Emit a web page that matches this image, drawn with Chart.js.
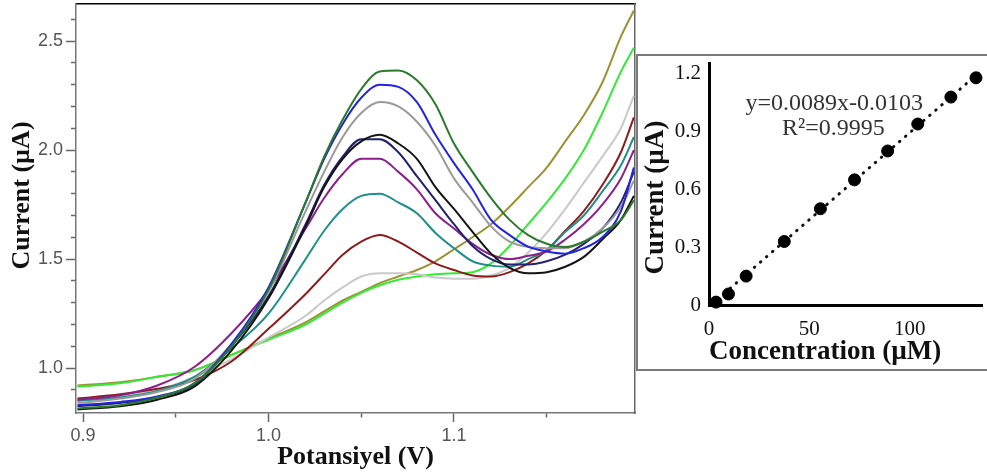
<!DOCTYPE html>
<html>
<head>
<meta charset="utf-8">
<script src="https://cdn.jsdelivr.net/npm/chart.js@4.4.1/dist/chart.umd.min.js"></script>
<style>
  html, body { margin: 0; padding: 0; background: #fff; }
  #wrap { position: relative; width: 987px; height: 476px; overflow: hidden; }
  #main { position: absolute; left: 0; top: 0; }
  #insetBox { position: absolute; left: 636px; top: 54px; width: 360px; height: 313px;
              border: 2px solid #7a7a7a; background: #fff; }
  #inset { position: absolute; left: 0; top: 0; }
</style>
</head>
<body>
<div id="wrap">
  <canvas id="main" width="987" height="476"></canvas>
  <div id="insetBox"><canvas id="inset" width="351" height="313"></canvas></div>
</div>
<script>
const potential = [0.897, 0.92, 0.94, 0.96, 0.98, 1.00, 1.02, 1.03, 1.04, 1.05, 1.06, 1.07, 1.08,
  1.09, 1.10, 1.11, 1.12, 1.13, 1.14, 1.15, 1.16, 1.17, 1.18, 1.19, 1.197];

// currents (uA), one array per voltammogram
const darkGreen = [0.815, 0.83, 0.865, 0.93, 1.10, 1.36, 1.76, 1.97, 2.14, 2.28, 2.36, 2.365, 2.32,
  2.21, 2.03, 1.90, 1.78, 1.68, 1.61, 1.57, 1.555, 1.58, 1.625, 1.68, 1.77];
const blue = [0.83, 0.845, 0.87, 0.93, 1.11, 1.37, 1.76, 1.96, 2.12, 2.24, 2.30, 2.29, 2.22,
  2.07, 1.94, 1.82, 1.68, 1.61, 1.557, 1.535, 1.525, 1.55, 1.60, 1.72, 1.92];
const gray = [0.84, 0.86, 0.89, 0.95, 1.11, 1.35, 1.72, 1.90, 2.06, 2.17, 2.22, 2.20, 2.13,
  2.02, 1.87, 1.76, 1.65, 1.58, 1.555, 1.55, 1.55, 1.58, 1.64, 1.74, 1.86];
const black = [0.81, 0.825, 0.855, 0.915, 1.08, 1.32, 1.65, 1.83, 1.96, 2.04, 2.07, 2.03, 1.96,
  1.83, 1.73, 1.625, 1.525, 1.46, 1.435, 1.44, 1.465, 1.51, 1.59, 1.68, 1.79];
const navy = [0.825, 0.84, 0.865, 0.925, 1.10, 1.33, 1.66, 1.84, 1.97, 2.05, 2.05, 1.99, 1.88,
  1.77, 1.66, 1.56, 1.50, 1.475, 1.475, 1.49, 1.52, 1.57, 1.64, 1.76, 1.90];
const purple = [0.855, 0.875, 0.92, 1.005, 1.16, 1.36, 1.64, 1.78, 1.89, 1.96, 1.96, 1.90, 1.82,
  1.71, 1.64, 1.57, 1.52, 1.50, 1.515, 1.535, 1.59, 1.66, 1.75, 1.87, 2.00];
const teal = [0.85, 0.865, 0.895, 0.96, 1.09, 1.25, 1.50, 1.63, 1.73, 1.79, 1.80, 1.76, 1.71,
  1.62, 1.55, 1.49, 1.47, 1.465, 1.50, 1.54, 1.625, 1.70, 1.81, 1.93, 2.06];
const darkRed = [0.86, 0.88, 0.905, 0.945, 1.03, 1.18, 1.34, 1.43, 1.52, 1.58, 1.61, 1.58, 1.53,
  1.48, 1.45, 1.425, 1.42, 1.44, 1.48, 1.54, 1.63, 1.72, 1.84, 1.99, 2.15];
const lightGray = [0.85, 0.87, 0.90, 0.96, 1.04, 1.14, 1.24, 1.31, 1.37, 1.42, 1.435, 1.435, 1.43,
  1.415, 1.41, 1.41, 1.425, 1.46, 1.53, 1.62, 1.73, 1.85, 1.97, 2.10, 2.25];
const brightGreen = [0.915, 0.93, 0.96, 0.99, 1.06, 1.13, 1.20, 1.25, 1.30, 1.345, 1.38, 1.405, 1.42,
  1.43, 1.435, 1.44, 1.48, 1.56, 1.66, 1.76, 1.87, 2.00, 2.17, 2.36, 2.47];
const olive = [0.92, 0.935, 0.96, 0.99, 1.06, 1.135, 1.21, 1.26, 1.31, 1.35, 1.39, 1.42, 1.45,
  1.49, 1.545, 1.60, 1.66, 1.74, 1.83, 1.92, 2.04, 2.16, 2.31, 2.52, 2.64];

const xTicks = [0.9, 0.95, 1.0, 1.05, 1.1, 1.15];
const xLabelled = [0.9, 1.0, 1.1];
const yTicks = [0.9, 1.0, 1.1, 1.2, 1.3, 1.4, 1.5, 1.6, 1.7, 1.8, 1.9, 2.0, 2.1, 2.2, 2.3, 2.4, 2.5, 2.6];
const yLabelled = [1.0, 1.5, 2.0, 2.5];

// calibration inset
const concentration = [3.5, 9.7, 18.5, 37.5, 55.5, 72.5, 89, 104, 120.5, 133];
const peakCurrent = [0.015, 0.057, 0.15, 0.33, 0.50, 0.65, 0.80, 0.94, 1.08, 1.18];
const fitX = [1.5, 136];
const fitY = [0.005, 1.22];
const insetXTicks = [0, 50, 100];
const insetYTicks = [0, 0.3, 0.6, 0.9, 1.2];
const equationText = "y=0.0089x-0.0103";
const r2Text = "R\u00b2=0.9995";

const series = [
  ["dark green", darkGreen, "#2b7a2b"],
  ["blue", blue, "#2323e0"],
  ["gray", gray, "#9a9a9a"],
  ["black", black, "#151515"],
  ["navy", navy, "#22226e"],
  ["purple", purple, "#8b1f8b"],
  ["teal", teal, "#1f8f88"],
  ["dark red", darkRed, "#8e1c1c"],
  ["light gray", lightGray, "#c9c9c9"],
  ["bright green", brightGreen, "#35ea35"],
  ["olive", olive, "#9c9233"],
];

const isOne = (list, v) => list.some(t => Math.abs(t - v) < 1e-6);
// stop label overflow from pushing the plot area around
const noPad = (scale) => {
  scale.paddingTop = 0; scale.paddingBottom = 0;
  scale.paddingLeft = 0; scale.paddingRight = 0;
};

new Chart(document.getElementById("main"), {
  type: "line",
  data: {
    datasets: series.map(([name, ys, color]) => ({
      label: name,
      data: potential.map((x, i) => ({ x: x, y: ys[i] })),
      borderColor: color,
      borderWidth: 2,
      pointRadius: 0,
      fill: false,
      cubicInterpolationMode: "monotone",
    })),
  },
  options: {
    responsive: false,
    animation: false,
    layout: { padding: { left: 0, top: 4, right: 352, bottom: 0 } },
    plugins: { legend: { display: false }, tooltip: { enabled: false } },
    scales: {
      x: {
        type: "linear",
        position: "bottom",
        min: 0.8962,
        max: 1.1976,
        afterBuildTicks: (axis) => { axis.ticks = xTicks.map(v => ({ value: v })); },
        afterFit: (scale) => { scale.height = 63; noPad(scale); },
        ticks: {
          autoSkip: false,
          maxRotation: 0,
          padding: 3,
          color: "#555",
          font: { family: "Liberation Sans", size: 18 },
          callback: (v) => isOne(xLabelled, v) ? v.toFixed(1) : "",
        },
        grid: {
          drawOnChartArea: false,
          tickLength: 9,
          tickWidth: 1.5,
          tickColor: "#666",
          tickBorderDash: (c) => isOne(xLabelled, c.tick.value) ? [] : [4, 100],
        },
        border: { color: "#777", width: 1.5 },
        title: {
          display: true,
          text: "Potansiyel (V)",
          color: "#111",
          font: { family: "Liberation Serif", size: 26, weight: "bold" },
          padding: { top: 0, bottom: 3 },
        },
      },
      xTop: {
        type: "linear",
        position: "top",
        min: 0.8962,
        max: 1.1976,
        afterFit: (scale) => { scale.height = 0; noPad(scale); },
        ticks: { display: false },
        grid: { drawOnChartArea: false, drawTicks: false },
        border: { color: "#000", width: 1.5 },
      },
      y: {
        type: "linear",
        position: "left",
        min: 0.794,
        max: 2.67,
        afterBuildTicks: (axis) => { axis.ticks = yTicks.map(v => ({ value: v })); },
        afterFit: (scale) => { scale.width = 76; noPad(scale); },
        ticks: {
          autoSkip: false,
          padding: 3,
          color: "#555",
          font: { family: "Liberation Sans", size: 18 },
          callback: (v) => isOne(yLabelled, v) ? v.toFixed(1) : "",
        },
        grid: {
          drawOnChartArea: false,
          tickLength: 10,
          tickWidth: 1.5,
          tickColor: "#666",
          tickBorderDash: (c) => isOne(yLabelled, c.tick.value) ? [] : [0, 5, 5, 100],
        },
        border: { color: "#777", width: 1.5 },
        title: {
          display: true,
          text: "    Current (\u00b5A)",
          color: "#111",
          font: { family: "Liberation Serif", size: 26, weight: "bold" },
          padding: { top: 7, bottom: 0 },
        },
      },
      yRight: {
        type: "linear",
        position: "right",
        min: 0.794,
        max: 2.67,
        afterFit: (scale) => { scale.width = 0; noPad(scale); },
        ticks: { display: false },
        grid: { drawOnChartArea: false, drawTicks: false },
        border: { color: "#666", width: 1.5 },
      },
    },
  },
});

// text of the fitted line, placed in data units of the inset
const equationPlugin = {
  id: "equation",
  afterDatasetsDraw(chart) {
    const { ctx, scales } = chart;
    ctx.save();
    ctx.fillStyle = "#333";
    ctx.font = '24px "Liberation Serif"';
    ctx.textAlign = "center";
    ctx.textBaseline = "middle";
    ctx.fillText(equationText, scales.x.getPixelForValue(62.4), scales.y.getPixelForValue(1.045));
    ctx.fillText(r2Text, scales.x.getPixelForValue(62), scales.y.getPixelForValue(0.916));
    ctx.restore();
  },
};

new Chart(document.getElementById("inset"), {
  type: "scatter",
  data: {
    datasets: [
      {
        label: "points",
        data: concentration.map((x, i) => ({ x: x, y: peakCurrent[i] })),
        backgroundColor: "#000",
        borderColor: "#000",
        pointRadius: 6,
        clip: false,
      },
      {
        label: "fit",
        type: "line",
        data: fitX.map((x, i) => ({ x: x, y: fitY[i] })),
        borderColor: "#111",
        borderWidth: 3,
        borderDash: [0.5, 7.5],
        borderCapStyle: "round",
        pointRadius: 0,
        clip: false,
      },
    ],
  },
  options: {
    responsive: false,
    animation: false,
    layout: { padding: { left: 0, top: 6, right: 0, bottom: 0 } },
    plugins: { legend: { display: false }, tooltip: { enabled: false } },
    scales: {
      x: {
        type: "linear",
        min: 0,
        max: 136,
        afterBuildTicks: (axis) => { axis.ticks = insetXTicks.map(v => ({ value: v })); },
        afterFit: (scale) => { scale.height = 64; noPad(scale); },
        ticks: {
          padding: 12,
          color: "#111",
          font: { family: "Liberation Serif", size: 21 },
        },
        grid: { display: false, drawTicks: false },
        border: { color: "#000", width: 3 },
        title: {
          display: true,
          text: "Concentration (\u00b5M)",
          align: "start",
          color: "#111",
          font: { family: "Liberation Serif", size: 27, weight: "bold" },
          padding: { top: 0, bottom: 1 },
        },
      },
      y: {
        type: "linear",
        min: 0,
        max: 1.257,
        afterBuildTicks: (axis) => { axis.ticks = insetYTicks.map(v => ({ value: v })); },
        afterFit: (scale) => { scale.width = 71; noPad(scale); },
        ticks: {
          padding: 8,
          color: "#111",
          font: { family: "Liberation Serif", size: 21 },
          callback: (v) => v === 0 ? "0" : v.toFixed(1),
        },
        grid: { display: false, drawTicks: false },
        border: { color: "#000", width: 3 },
        title: {
          display: true,
          text: "Current (\u00b5A)    ",
          color: "#111",
          font: { family: "Liberation Serif", size: 27, weight: "bold" },
          padding: { top: 2, bottom: 0 },
        },
      },
    },
  },
  plugins: [equationPlugin],
});
</script>
</body>
</html>
